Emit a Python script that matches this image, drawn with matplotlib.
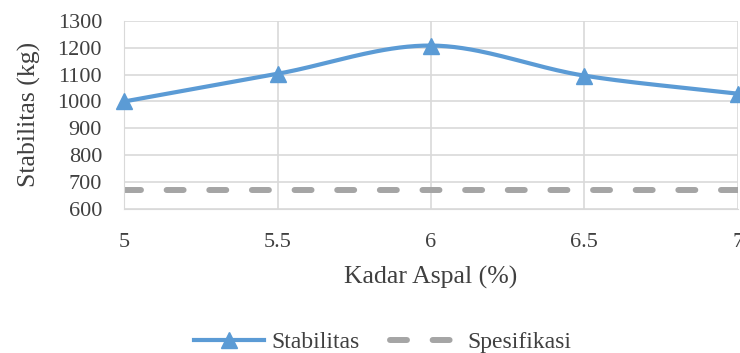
import matplotlib.pyplot as plt
import numpy as np

kadar = [5, 5.5, 6, 6.5, 7]
stabilitas = [1000, 1103, 1208, 1096, 1029]
spesifikasi = [672, 672, 672, 672, 672]

plt.rcParams['font.family'] = ['Liberation Serif', 'DejaVu Serif']


def smooth(x, y, n=40):
    # Catmull-Rom style smoothing, similar to spreadsheet "smoothed line"
    x = np.asarray(x, float)
    y = np.asarray(y, float)
    px = np.concatenate([[2 * x[0] - x[1]], x, [2 * x[-1] - x[-2]]])
    py = np.concatenate([[2 * y[0] - y[1]], y, [2 * y[-1] - y[-2]]])
    xs, ys = [], []
    t = np.linspace(0, 1, n)
    for i in range(1, len(px) - 2):
        p0, p1, p2, p3 = np.array([px[i - 1], py[i - 1]]), np.array([px[i], py[i]]), \
            np.array([px[i + 1], py[i + 1]]), np.array([px[i + 2], py[i + 2]])
        c1 = p1 + (p2 - p0) / 6
        c2 = p2 - (p3 - p1) / 6
        b = ((1 - t) ** 3)[:, None] * p1 + (3 * (1 - t) ** 2 * t)[:, None] * c1 \
            + (3 * (1 - t) * t ** 2)[:, None] * c2 + (t ** 3)[:, None] * p2
        xs.extend(b[:, 0])
        ys.extend(b[:, 1])
    return np.array(xs), np.array(ys)


fig = plt.figure(figsize=(7.4, 3.53), dpi=100)
ax = fig.add_axes([0.168, 0.408, 0.829, 0.533])

blue = '#5b9bd5'
gray = '#a5a5a5'
txt = '#404040'
dash = (0, (2.84, 4.3))

sx, sy = smooth(kadar, stabilitas)
ax.plot(sx, sy, color=blue, lw=3, zorder=3, solid_capstyle='round')
ax.plot(kadar, stabilitas, ls='none', marker='^', ms=12, color=blue, zorder=4, clip_on=False)
ax.plot(kadar, spesifikasi, color=gray, lw=4.3, ls=dash, dash_capstyle='round', zorder=2)

# legend proxies
h1, = ax.plot([], [], color=blue, lw=3, marker='^', ms=11, label='Stabilitas')
h2, = ax.plot([], [], color=gray, lw=4.3, ls=dash, dash_capstyle='round', label='Spesifikasi')

ax.set_xlim(5, 7)
ax.set_ylim(600, 1300)
ax.set_xticks([5, 5.5, 6, 6.5, 7])
ax.set_xticklabels(['5', '5.5', '6', '6.5', '7'])
ax.set_yticks(range(600, 1301, 100))
ax.grid(True, color='#d9d9d9', lw=1.2)
ax.set_axisbelow(True)
for s in ax.spines.values():
    s.set_visible(False)
ax.spines['left'].set_visible(True)
ax.spines['bottom'].set_visible(True)
ax.spines['left'].set_color('#d9d9d9')
ax.spines['bottom'].set_color('#d9d9d9')
ax.tick_params(length=0, labelsize=16, colors=txt)
ax.tick_params(axis='y', pad=16)
ax.tick_params(axis='x', pad=17)
ax.set_xlabel('Kadar Aspal (%)', fontsize=18.5, color=txt, labelpad=10)
ax.set_ylabel('Stabilitas (kg)', fontsize=18.5, color=txt, labelpad=12)

leg = fig.legend([h1, h2], ['Stabilitas', 'Spesifikasi'], loc='center',
                 bbox_to_anchor=(0.517, 0.03), ncol=2, frameon=False, fontsize=17,
                 handlelength=3.0, columnspacing=1.26, handletextpad=0.3)
for t in leg.get_texts():
    t.set_color(txt)

fig.savefig('out.png', dpi=100)
